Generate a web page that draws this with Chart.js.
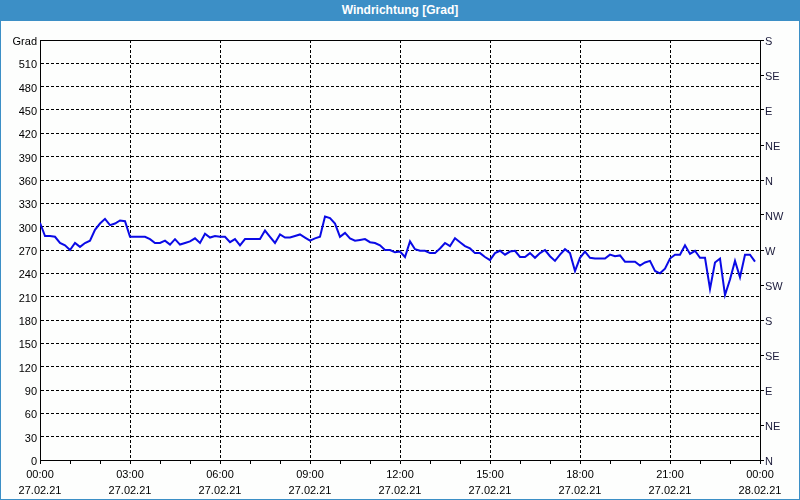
<!DOCTYPE html>
<html>
<head>
<meta charset="utf-8">
<script src="https://cdn.jsdelivr.net/npm/chart.js@4"></script>
<style>
html,body{margin:0;padding:0;background:#fdfefd;}
#wrap{position:relative;width:800px;height:500px;overflow:hidden;background:#fdfefd;}
#head{position:absolute;left:0;top:0;width:800px;height:21px;background:#3c8fc6;color:#fff;
font:bold 12px "Liberation Sans",Arial,sans-serif;text-align:center;line-height:21px;}
#frame{position:absolute;left:0;top:0;width:798px;height:498px;border:1px solid #3c8fc6;pointer-events:none;}
canvas{position:absolute;left:0;top:0;}
</style>
</head>
<body>
<div id="wrap">
<canvas id="c" width="800" height="500"></canvas>
<div id="head">Windrichtung [Grad]</div>
<div id="frame"></div>
</div>
<script>
// time in minutes from 27.02.21 00:00, every 10 minutes
const directionValues = [
305,288,288,287,279,276,270,279,274,279,282,296,304,310,302,304,308,307,287,287,
287,287,284,279,279,282,277,284,277,279,281,285,279,291,286,288,287,287,280,284,
276,284,284,284,284,295,287,279,290,286,286,288,290,286,282,285,287,313,311,304,
287,292,285,282,283,284,280,279,276,270,270,267,268,261,281,271,269,269,266,266,
272,279,275,285,280,275,272,266,266,261,257,266,269,264,268,269,261,261,266,260,
266,270,262,256,264,271,266,243,260,268,260,259,259,259,264,262,263,255,255,255,
250,254,256,243,240,246,259,264,264,276,265,269,260,260,220,254,259,212,232,256,
235,264,264,255
];
const intervalMinutes = 10;
const timeLabels = ['00:00','03:00','06:00','09:00','12:00','15:00','18:00','21:00','00:00'];
const dateLabels = ['27.02.21','27.02.21','27.02.21','27.02.21','27.02.21','27.02.21','27.02.21','27.02.21','28.02.21'];
const compassLabels = ['N','NE','E','SE','S','SW','W','NW','N','NE','E','SE','S'];

const points = directionValues.map((v, i) => ({x: i * intervalMinutes, y: v}));
const font = {family: '"Liberation Sans", Arial, sans-serif', size: 11};
const xFont = {family: '"Liberation Sans", Arial, sans-serif', size: 11, lineHeight: 16 / 11};

new Chart(document.getElementById('c'), {
  type: 'line',
  data: {datasets: [{data: points, borderColor: '#0a0ae6', borderWidth: 2, pointRadius: 0, tension: 0, fill: false, yAxisID: 'y'}]},
  options: {
    responsive: false, animation: false,
    layout: {padding: 0},
    plugins: {legend: {display: false}, tooltip: {enabled: false}},
    scales: {
      x: {
        type: 'linear', position: 'bottom', min: 0, max: 1440,
        afterBuildTicks: (s) => { s.ticks = []; for (let m = 0; m <= 1440; m += 60) s.ticks.push({value: m}); },
        afterFit: (s) => { s.height = 40; },
        ticks: {autoSkip: false, maxRotation: 0, padding: 3, color: '#000', font: xFont,
          callback: (v) => (v % 180 === 0 ? [timeLabels[v / 180], dateLabels[v / 180]] : '')},
        grid: {drawOnChartArea: true, tickLength: 4, tickColor: '#000',
          color: (ctx) => (ctx.tick && ctx.tick.value % 180 === 0 && ctx.tick.value > 0 && ctx.tick.value < 1440 ? '#000' : 'rgba(0,0,0,0)')},
        border: {display: true, color: '#000', width: 1, dash: [3, 2]}
      },
      xTop: {
        type: 'linear', position: 'top', min: 0, max: 1440,
        afterFit: (s) => { s.height = 40; },
        ticks: {display: false}, grid: {display: false},
        border: {display: true, color: '#000', width: 1}
      },
      y: {
        type: 'linear', position: 'left', min: 0, max: 540,
        afterBuildTicks: (s) => { s.ticks = []; for (let v = 0; v <= 540; v += 30) s.ticks.push({value: v}); },
        afterFit: (s) => { s.width = 40; },
        ticks: {padding: 3, labelOffset: 2, color: '#000', font, callback: (v) => (v === 540 ? 'Grad' : String(v))},
        grid: {drawTicks: false, color: (ctx) => (ctx.tick && ctx.tick.value > 0 && ctx.tick.value < 540 ? '#000' : 'rgba(0,0,0,0)')},
        border: {display: true, color: '#000', width: 1, dash: [3, 2]}
      },
      yRight: {
        type: 'linear', position: 'right', min: 0, max: 540,
        afterBuildTicks: (s) => { s.ticks = []; for (let v = 0; v <= 540; v += 45) s.ticks.push({value: v}); },
        afterFit: (s) => { s.width = 40; },
        ticks: {padding: 1, labelOffset: 2, color: '#1a1a3a', font, callback: (v) => compassLabels[v / 45]},
        grid: {drawOnChartArea: false, tickLength: 4, tickColor: '#000'},
        border: {display: true, color: '#000', width: 1}
      }
    }
  }
});
</script>
</body>
</html>
